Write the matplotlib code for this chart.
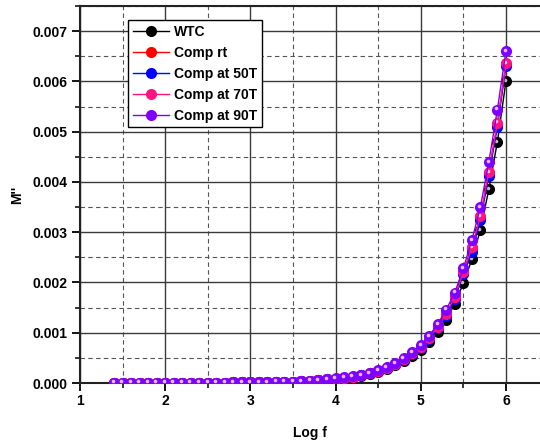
import matplotlib
matplotlib.use("Agg")
import matplotlib.pyplot as plt
import matplotlib.transforms as mtransforms
from matplotlib.ticker import MultipleLocator

plt.rcParams['font.family'] = ['Liberation Sans', 'DejaVu Sans']
plt.rcParams['font.weight'] = 'bold'

# log of frequency, 10 points per decade
log_f = [1.4, 1.5, 1.6, 1.7, 1.8, 1.9, 2.0, 2.1, 2.2, 2.3, 2.4, 2.5,
         2.6, 2.7, 2.8, 2.9, 3.0, 3.1, 3.2, 3.3, 3.4, 3.5, 3.6, 3.7,
         3.8, 3.9, 4.0, 4.1, 4.2, 4.3, 4.4, 4.5, 4.6, 4.7, 4.8, 4.9,
         5.0, 5.1, 5.2, 5.3, 5.4, 5.5, 5.6, 5.7, 5.8, 5.9, 6.0]

low = [0.00001, 0.00001, 0.00001, 0.00001, 0.00001, 0.00001, 0.00001,
       0.00001, 0.00001, 0.00001, 0.00001, 0.00001, 0.00001, 0.00001,
       0.00002, 0.00002, 0.00002, 0.00002, 0.00002, 0.00003, 0.00003,
       0.00003, 0.00004, 0.00005, 0.00006]

wtc = low + [0.00006, 0.00007, 0.00009, 0.00011, 0.00014, 0.00017, 0.00022,
             0.00028, 0.00035, 0.00043, 0.00054, 0.00066, 0.00082, 0.00102,
             0.00126, 0.00158, 0.00198, 0.00246, 0.00304, 0.00386, 0.0048,
             0.0060]
comp_rt = low + [0.00007, 0.00008, 0.0001, 0.00012, 0.00015, 0.00019, 0.00024,
                 0.0003, 0.00038, 0.00047, 0.00059, 0.00072, 0.00089, 0.00111,
                 0.00137, 0.00171, 0.00219, 0.00268, 0.0033, 0.00418, 0.00516,
                 0.00634]
comp_50 = low + [0.00007, 0.00008, 0.0001, 0.00012, 0.00015, 0.00019, 0.00023,
                 0.0003, 0.00037, 0.00046, 0.00058, 0.0007, 0.00088, 0.0011,
                 0.00134, 0.00168, 0.00216, 0.0026, 0.00324, 0.00412, 0.0051,
                 0.0063]
comp_70 = low + [0.00007, 0.00008, 0.0001, 0.00012, 0.00015, 0.00019, 0.00024,
                 0.0003, 0.00038, 0.00047, 0.00059, 0.00072, 0.0009, 0.00112,
                 0.00138, 0.00172, 0.0022, 0.0027, 0.00332, 0.0042, 0.00518,
                 0.00636]
comp_90 = low + [0.00007, 0.00009, 0.00011, 0.00013, 0.00016, 0.0002, 0.00025,
                 0.00032, 0.0004, 0.0005, 0.00062, 0.00076, 0.00094, 0.00118,
                 0.00146, 0.0018, 0.00228, 0.00284, 0.0035, 0.0044, 0.00544,
                 0.0066]

names = ['WTC', 'Comp rt', 'Comp at 50T', 'Comp at 70T', 'Comp at 90T']
series = [wtc, comp_rt, comp_50, comp_70, comp_90]
colors = ['#000000', '#ff0000', '#0000ff', '#ff1480', '#8000ff']

fig = plt.figure(figsize=(5.4, 4.43), dpi=100)
ax = fig.add_axes([0.148, 0.1354, 0.852, 0.851])

# small shiny spot on each marker to give a ball look
shine = mtransforms.offset_copy(ax.transData, fig=fig, x=-1.2, y=1.2, units='dots')

for name, y, c in zip(names, series, colors):
    ax.plot(log_f, y, '-', color=c, lw=1.0, marker='o', ms=8,
            mec=c, mfc=c, mew=0, label=name, zorder=3)
    ax.plot(log_f, y, ls='none', marker='o', ms=2.6, mfc='white', mew=0,
            alpha=0.75, transform=shine, zorder=3)

ax.set_xlim(1, 6.4)
ax.set_ylim(0, 0.0075)
ax.xaxis.set_major_locator(MultipleLocator(1))
ax.xaxis.set_minor_locator(MultipleLocator(0.5))
ax.yaxis.set_major_locator(MultipleLocator(0.001))
ax.yaxis.set_minor_locator(MultipleLocator(0.0005))
ax.yaxis.set_major_formatter(plt.FormatStrFormatter('%.3f'))

ax.grid(which='major', color='#3a3a3a', lw=1.0, ls='-', zorder=0)
ax.grid(which='minor', color='#555555', lw=0.8, ls=(0, (4, 3)), zorder=0)
ax.set_axisbelow(True)

ax.spines['right'].set_visible(False)
for s in ['left', 'bottom', 'top']:
    ax.spines[s].set_linewidth(1.5)
    ax.spines[s].set_color('#222222')

ax.tick_params(which='major', direction='out', length=6, width=1.3,
               labelsize=10, pad=3)
ax.tick_params(which='major', axis='x', pad=2)
ax.tick_params(which='minor', direction='out', length=3.5, width=1.1)
for lab in ax.get_xticklabels() + ax.get_yticklabels():
    lab.set_fontweight('bold')

ax.set_xlabel('Log f', fontsize=10, fontweight='bold', labelpad=13)
ax.set_ylabel("M''", fontsize=10, fontweight='bold', labelpad=6)

leg = ax.legend(loc='upper left', bbox_to_anchor=(0.104, 0.963),
                prop={'weight': 'bold', 'size': 10}, frameon=True,
                fancybox=False, edgecolor='black', framealpha=1,
                handlelength=2.6, handletextpad=0.4, labelspacing=0.5,
                borderpad=0.35, borderaxespad=0)
leg.get_frame().set_linewidth(1.0)
leg.set_zorder(5)

fig.savefig('out.png', dpi=100)
